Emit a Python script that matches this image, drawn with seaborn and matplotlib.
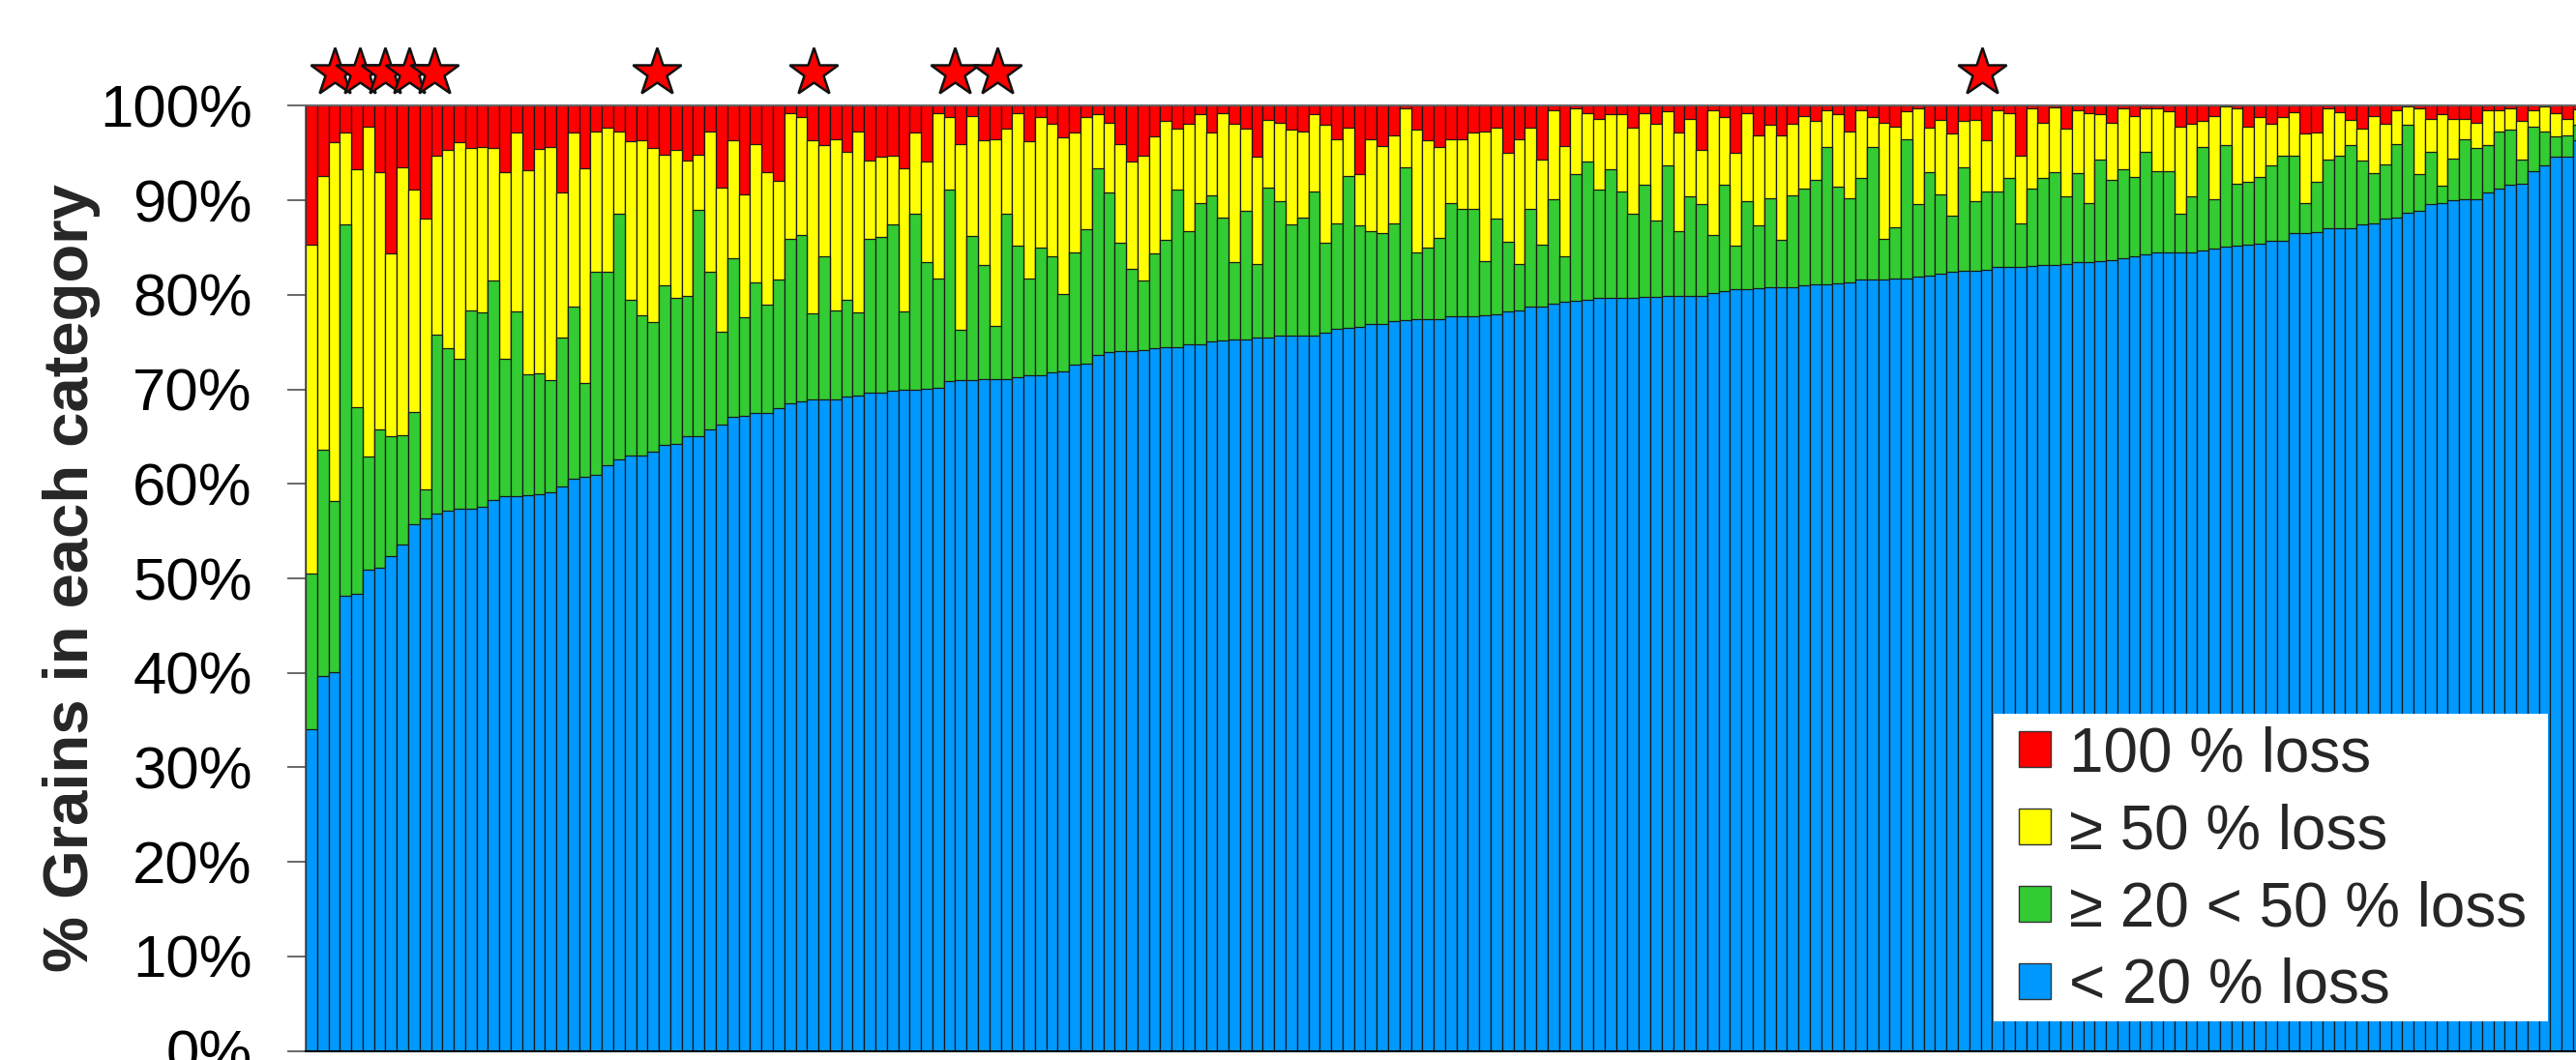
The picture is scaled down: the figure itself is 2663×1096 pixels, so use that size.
import numpy as np
import pandas as pd
import matplotlib
matplotlib.use("Agg")
import matplotlib.pyplot as plt
from matplotlib.patches import Patch, Rectangle
import seaborn as sns

# Cumulative share of grains per sample (%), samples sorted by the < 20 % loss share
pct_lt20 = [
    34.0, 39.7, 40.1, 48.2, 48.4, 50.9, 51.1, 52.4, 53.6, 55.7,
    56.3, 56.9, 57.2, 57.4, 57.4, 57.6, 58.3, 58.7, 58.7, 58.8,
    58.9, 59.1, 59.7, 60.5, 60.7, 60.9, 62.0, 62.6, 63.0, 63.0,
    63.4, 64.1, 64.2, 65.0, 65.0, 65.8, 66.3, 67.1, 67.2, 67.5,
    67.5, 68.0, 68.5, 68.7, 68.9, 68.9, 68.9, 69.2, 69.3, 69.6,
    69.6, 69.8, 70.0, 70.0, 70.1, 70.2, 70.9, 71.0, 71.0, 71.1,
    71.1, 71.1, 71.3, 71.5, 71.5, 71.8, 71.9, 72.6, 72.7, 73.6,
    73.9, 74.0, 74.0, 74.1, 74.4, 74.5, 74.5, 74.8, 74.8, 75.1,
    75.2, 75.3, 75.3, 75.5, 75.5, 75.7, 75.7, 75.7, 75.7, 76.0,
    76.4, 76.5, 76.6, 76.9, 76.9, 77.2, 77.3, 77.4, 77.4, 77.4,
    77.7, 77.7, 77.7, 77.8, 77.9, 78.2, 78.3, 78.8, 78.8, 79.1,
    79.3, 79.4, 79.5, 79.7, 79.7, 79.7, 79.7, 79.8, 79.8, 79.9,
    79.9, 79.9, 79.9, 80.2, 80.4, 80.6, 80.6, 80.7, 80.8, 80.8,
    80.8, 81.0, 81.1, 81.1, 81.2, 81.3, 81.6, 81.6, 81.6, 81.7,
    81.7, 81.9, 82.0, 82.2, 82.4, 82.5, 82.5, 82.6, 82.9, 82.9,
    82.9, 83.0, 83.2, 83.2, 83.3, 83.5, 83.5, 83.6, 83.7, 83.9,
    84.1, 84.3, 84.5, 84.5, 84.5, 84.5, 84.7, 84.9, 85.1, 85.2,
    85.3, 85.4, 85.7, 85.7, 86.5, 86.5, 86.6, 87.0, 87.0, 87.0,
    87.4, 87.5, 88.1, 88.2, 88.7, 88.9, 89.6, 89.7, 90.0, 90.1,
    90.1, 90.8, 91.2, 91.6, 91.7, 93.1, 93.7, 94.6, 94.6, 96.3,
]
pct_lt50 = [
    50.5, 63.6, 58.2, 87.4, 68.1, 62.9, 65.8, 65.0, 65.1, 67.6,
    59.4, 75.8, 74.3, 73.2, 78.3, 78.1, 81.5, 73.2, 78.2, 71.6,
    71.7, 71.0, 75.5, 78.8, 70.7, 82.4, 82.4, 88.6, 79.5, 77.8,
    77.1, 81.0, 79.7, 79.9, 89.0, 82.4, 76.1, 83.9, 77.6, 81.3,
    79.0, 81.6, 85.9, 86.3, 78.0, 84.1, 78.3, 79.5, 78.1, 85.9,
    86.1, 87.4, 78.2, 88.6, 83.5, 81.7, 91.1, 76.3, 86.2, 83.1,
    76.7, 88.6, 85.2, 81.7, 85.0, 84.1, 80.1, 84.5, 86.9, 93.4,
    90.8, 85.5, 82.7, 81.5, 84.4, 85.8, 91.1, 86.7, 89.7, 90.5,
    88.2, 83.5, 88.9, 83.3, 91.3, 89.9, 87.4, 88.2, 90.9, 85.5,
    87.5, 92.6, 87.3, 86.7, 86.5, 87.5, 93.5, 84.5, 85.0, 86.0,
    89.7, 89.1, 89.1, 83.6, 88.1, 85.6, 83.3, 89.1, 85.3, 90.1,
    84.1, 92.8, 94.1, 91.1, 93.3, 90.9, 88.6, 91.6, 87.9, 93.7,
    86.7, 90.4, 89.6, 86.3, 91.6, 85.2, 89.9, 87.3, 90.2, 85.8,
    90.5, 91.2, 92.2, 95.6, 91.4, 90.2, 92.4, 95.6, 85.9, 87.1,
    96.4, 89.6, 93.0, 90.6, 88.4, 93.5, 89.9, 90.9, 90.9, 92.4,
    87.5, 91.2, 92.4, 93.0, 90.4, 92.9, 89.7, 94.3, 92.2, 93.3,
    92.5, 95.1, 93.1, 93.1, 88.6, 90.4, 95.6, 90.1, 95.8, 91.7,
    91.9, 92.5, 93.7, 94.7, 94.7, 89.7, 91.9, 94.3, 94.7, 95.8,
    94.2, 92.9, 93.8, 95.9, 98.0, 92.8, 95.1, 91.5, 94.4, 96.4,
    95.5, 95.8, 97.3, 97.5, 94.3, 97.8, 97.3, 96.8, 96.9, 98.0,
]
pct_lt100 = [
    85.3, 92.6, 96.1, 97.2, 93.3, 97.8, 93.0, 84.4, 93.5, 91.1,
    88.1, 94.7, 95.3, 96.1, 95.5, 95.6, 95.5, 93.0, 97.2, 93.2,
    95.4, 95.6, 90.8, 97.2, 93.4, 97.3, 97.7, 97.3, 96.2, 96.3,
    95.5, 94.8, 95.3, 94.2, 94.8, 97.3, 91.3, 96.3, 90.6, 95.9,
    93.0, 92.0, 99.2, 98.8, 96.3, 95.8, 96.5, 95.1, 97.3, 94.2,
    94.6, 94.7, 93.4, 97.2, 94.1, 99.2, 98.8, 95.9, 98.9, 96.3,
    96.4, 97.6, 99.2, 96.2, 98.8, 98.1, 96.7, 97.2, 98.8, 99.1,
    98.2, 95.9, 94.1, 94.7, 96.8, 98.4, 97.6, 98.1, 99.1, 97.2,
    99.2, 98.1, 97.6, 94.6, 98.5, 98.2, 97.5, 97.3, 99.1, 98.0,
    96.4, 97.7, 92.8, 96.4, 95.7, 96.9, 99.7, 97.5, 96.3, 95.6,
    96.5, 96.4, 97.2, 97.3, 97.7, 95.0, 96.5, 97.7, 94.3, 99.5,
    95.7, 99.7, 99.2, 98.6, 99.1, 99.1, 97.7, 99.2, 98.1, 99.4,
    97.2, 98.6, 95.3, 99.5, 98.8, 95.0, 99.2, 96.9, 98.0, 96.9,
    98.1, 98.9, 98.4, 99.5, 99.1, 97.3, 99.5, 98.8, 98.2, 97.8,
    99.4, 99.7, 97.7, 98.5, 97.1, 98.4, 98.5, 96.3, 99.5, 99.2,
    94.7, 99.7, 98.2, 99.8, 97.6, 99.5, 99.2, 99.1, 98.2, 99.7,
    98.9, 99.7, 99.7, 99.4, 97.8, 98.1, 98.4, 98.9, 99.9, 99.7,
    97.8, 98.8, 98.1, 98.8, 99.3, 97.1, 97.2, 99.7, 99.3, 98.5,
    97.6, 98.9, 98.1, 99.5, 99.9, 99.7, 98.6, 99.1, 98.6, 98.6,
    98.2, 99.5, 99.5, 99.7, 98.4, 99.5, 99.9, 99.2, 98.6, 99.6,
]
# Samples flagged with a star (position along the sorted sample axis)
starred_samples = [2.05, 4.25, 6.45, 8.6, 10.8, 30.3, 44.1, 56.5, 60.2, 146.6]

categories = ["100 % loss", "\u2265 50 % loss", "\u2265 20 < 50 % loss", "< 20 % loss"]
colors = ["#FF0000", "#FFFF00", "#33CC33", "#0099FF"]
tick_values = list(range(0, 101, 10))
tick_labels = [f"{v}%" for v in tick_values]

df = pd.DataFrame({
    "sample": np.arange(len(pct_lt20)),
    "lt20": pct_lt20,
    "lt50": pct_lt50,
    "lt100": pct_lt100,
})
df["total_loss"] = 100 - df["lt100"]
df["all"] = df["lt100"] + df["total_loss"]

sns.set_style("ticks")
plt.rcParams["font.family"] = ["Liberation Sans", "DejaVu Sans"]

W, H = 2663, 1096
fig = plt.figure(figsize=(W / 100, H / 100), dpi=100)
ax = fig.add_axes([316 / W, (H - 1086.7) / H, (W - 316) / W, 977.4 / H])

edge = "#1a1a1a"
# Cumulative layers drawn back to front so each visible band is one category
for col, color in zip(["all", "lt100", "lt50", "lt20"], colors):
    sns.barplot(data=df, x="sample", y=col, color=color, saturation=1,
                width=1.0, edgecolor=edge, linewidth=0.9, errorbar=None, ax=ax)

ax.plot(starred_samples, [103.5] * len(starred_samples), linestyle="none",
        marker="*", markersize=38, markerfacecolor="#FF0000",
        markeredgecolor="#111111", markeredgewidth=1.8, clip_on=False, zorder=10)

ax.set_xlim(-0.5, 198.75)
ax.set_ylim(0, 100)
ax.set_xticks([])
ax.set_xlabel("")
ax.set_yticks(tick_values)
ax.set_yticklabels(tick_labels)
ax.tick_params(axis="y", length=13.7, width=1.1, color="#404040", pad=26,
               labelsize=44.5, labelcolor="black")

ax.spines["right"].set_visible(False)
ax.spines["left"].set_color("#404040")
ax.spines["left"].set_linewidth(1.1)
ax.spines["top"].set_visible(True)
ax.spines["top"].set_color("#666666")
ax.spines["top"].set_linewidth(1.5)
ax.spines["bottom"].set_color("black")
ax.spines["bottom"].set_linewidth(1.5)

ax.set_ylabel("% Grains in each category", fontsize=47, fontweight="bold")
ax.yaxis.set_label_coords(-0.103, 0.50)
ax.yaxis.label.set_verticalalignment("center")

# White legend panel
ax.add_patch(Rectangle((0.7435, 0.0314), 0.2442, 0.3254, transform=ax.transAxes,
                       facecolor="white", edgecolor="none", zorder=19))

handles = [Patch(facecolor=c, edgecolor="#333333", linewidth=1.0) for c in colors]
leg = ax.legend(handles, categories, loc="upper left",
                bbox_to_anchor=(0.7546, 0.344), borderaxespad=0,
                fontsize=46, frameon=False,
                handlelength=0.52, handleheight=0.52, handletextpad=0.3,
                labelspacing=0.31, borderpad=0)
leg.set_zorder(20)

fig.savefig("out.png", dpi=100)
